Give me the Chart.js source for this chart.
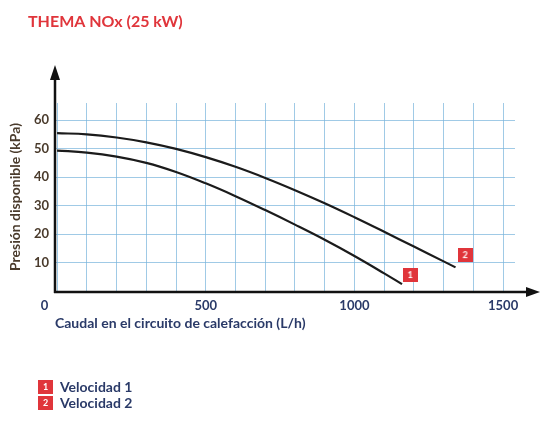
<!DOCTYPE html>
<html>
<head>
<meta charset="utf-8">
<script src="https://cdn.jsdelivr.net/npm/chart.js@4"></script>
<style>
html,body{margin:0;padding:0;background:#fff;}
canvas{display:block;}
</style>
</head>
<body>
<canvas id="pumpChart" width="540" height="424"></canvas>
<script>
var chartTitle = 'THEMA NOx (25 kW)';
var xAxisTitle = 'Caudal en el circuito de calefacción (L/h)';
var yAxisTitle = 'Presión disponible (kPa)';
var seriesNames = ['Velocidad 1', 'Velocidad 2'];
var xTickLabels = [0, 500, 1000, 1500];
var yTickLabels = [10, 20, 30, 40, 50, 60];

// caudal (L/h) / presion (kPa)
var flowSpeed1 = [0, 100, 200, 300, 400, 500, 600, 700, 800, 900, 1000, 1100, 1160];
var pressureSpeed1 = [49.3, 48.6, 47.2, 45.0, 41.8, 37.8, 33.3, 28.4, 23.3, 18.0, 12.3, 6.2, 2.4];
var flowSpeed2 = [0, 100, 200, 300, 400, 500, 600, 700, 800, 900, 1000, 1100, 1200, 1300, 1340];
var pressureSpeed2 = [55.4, 55.0, 53.9, 52.2, 49.9, 47.0, 43.6, 39.7, 35.4, 30.8, 25.9, 20.8, 15.6, 10.4, 8.3];

// numbered badges next to the curve ends
var badgeText = ['1', '2'];
var badgeFlow = [1187, 1372];
var badgePressure = [5.6, 12.6];

var RED = '#e0353b';
var BLUE_TEXT = '#2a3a68';
var BROWN_TEXT = '#4a3b2c';
var GRID = 'rgba(120,180,220,0.7)';
var FONT = 'Lato, "Open Sans", sans-serif';

function makeBadge(text){
	var c = document.createElement('canvas');
	c.width = 15; c.height = 14;
	var g = c.getContext('2d');
	g.fillStyle = RED;
	g.fillRect(0, 0, 15, 14);
	g.fillStyle = '#ffffff';
	g.font = 'bold 9px ' + FONT;
	g.textAlign = 'center';
	g.textBaseline = 'middle';
	g.fillText(text, 7.5, 7.5);
	return c;
}

var badges = badgeText.map(makeBadge);

function toPoints(xs, ys){
	return xs.map(function(x, i){ return {x: x, y: ys[i]}; });
}

var decorPlugin = {
	id: 'decor',
	afterDraw: function(chart){
		var ctx = chart.ctx;
		var area = chart.chartArea;
		var ax = area.left;
		var ay = area.bottom + 1;
		ctx.save();
		ctx.strokeStyle = '#111';
		ctx.fillStyle = '#111';
		ctx.lineWidth = 2.5;
		// y axis + arrow
		ctx.beginPath();
		ctx.moveTo(ax, ay + 1);
		ctx.lineTo(ax, 78);
		ctx.stroke();
		ctx.beginPath();
		ctx.moveTo(ax, 65);
		ctx.lineTo(ax - 5, 80);
		ctx.lineTo(ax + 5, 80);
		ctx.closePath();
		ctx.fill();
		// x axis + arrow
		ctx.beginPath();
		ctx.moveTo(ax - 1, ay);
		ctx.lineTo(530, ay);
		ctx.stroke();
		ctx.beginPath();
		ctx.moveTo(540, ay);
		ctx.lineTo(526, ay - 5);
		ctx.lineTo(526, ay + 5);
		ctx.closePath();
		ctx.fill();

		// title
		ctx.font = 'bold 16px ' + FONT;
		ctx.fillStyle = RED;
		ctx.textBaseline = 'middle';
		ctx.textAlign = 'left';
		ctx.fillText(chartTitle, 28, 22);

		// legend
		ctx.font = 'bold 14px ' + FONT;
		ctx.fillStyle = BLUE_TEXT;
		seriesNames.forEach(function(name, i){
			ctx.drawImage(badges[i], 38, 380 + 16 * i);
			ctx.fillText(name, 60, 387 + 16 * i);
		});
		ctx.restore();
	}
};

new Chart(document.getElementById('pumpChart'), {
	type: 'scatter',
	data: {
		datasets: [
			{
				label: seriesNames[0],
				data: toPoints(flowSpeed1, pressureSpeed1),
				showLine: true,
				borderColor: '#1b1b1b',
				borderWidth: 2.2,
				pointRadius: 0,
				tension: 0.4
			},
			{
				label: seriesNames[1],
				data: toPoints(flowSpeed2, pressureSpeed2),
				showLine: true,
				borderColor: '#1b1b1b',
				borderWidth: 2.2,
				pointRadius: 0,
				tension: 0.4
			},
			{
				label: 'badges',
				data: toPoints(badgeFlow, badgePressure),
				showLine: false,
				pointStyle: badges,
				pointRadius: 8,
				clip: false
			}
		]
	},
	options: {
		responsive: false,
		animation: false,
		devicePixelRatio: 1,
		events: [],
		layout: {padding: {top: 103, right: 25, bottom: 88, left: 0}},
		plugins: {
			legend: {display: false},
			tooltip: {enabled: false},
			title: {display: false}
		},
		scales: {
			x: {
				type: 'linear',
				min: -7,
				max: 1540,
				afterBuildTicks: function(scale){
					var ticks = [];
					for(var v = 0; v <= 1500; v += 100){ ticks.push({value: v}); }
					scale.ticks = ticks;
				},
				afterFit: function(scale){ scale.height = 45; },
				grid: {color: GRID, lineWidth: 1, drawTicks: false},
				border: {display: false},
				ticks: {
					autoSkip: false,
					maxRotation: 0,
					padding: 7,
					color: BLUE_TEXT,
					font: {family: FONT, size: 13, weight: 'bold'},
					callback: function(value){
						if(xTickLabels.indexOf(value) < 0){ return ''; }
						return value === 0 ? '0        ' : String(value);
					}
				},
				title: {
					display: true,
					text: xAxisTitle,
					align: 'start',
					color: BLUE_TEXT,
					padding: {top: 0, bottom: 4},
					font: {family: FONT, size: 14, weight: 'bold'}
				}
			},
			y: {
				type: 'linear',
				min: 0,
				max: 66,
				afterBuildTicks: function(scale){
					var ticks = [];
					for(var v = 0; v <= 60; v += 10){ ticks.push({value: v}); }
					scale.ticks = ticks;
				},
				afterFit: function(scale){ scale.width = 55; },
				grid: {color: GRID, lineWidth: 1, drawTicks: false},
				border: {display: false},
				ticks: {
					padding: 6,
					color: BROWN_TEXT,
					font: {family: FONT, size: 13, weight: 'bold'},
					callback: function(value){
						return yTickLabels.indexOf(value) >= 0 ? String(value) : '';
					}
				},
				title: {
					display: true,
					text: yAxisTitle,
					color: BROWN_TEXT,
					padding: {top: 7, bottom: 0},
					font: {family: FONT, size: 14, weight: 'bold'}
				}
			}
		}
	},
	plugins: [decorPlugin]
});
</script>
</body>
</html>
